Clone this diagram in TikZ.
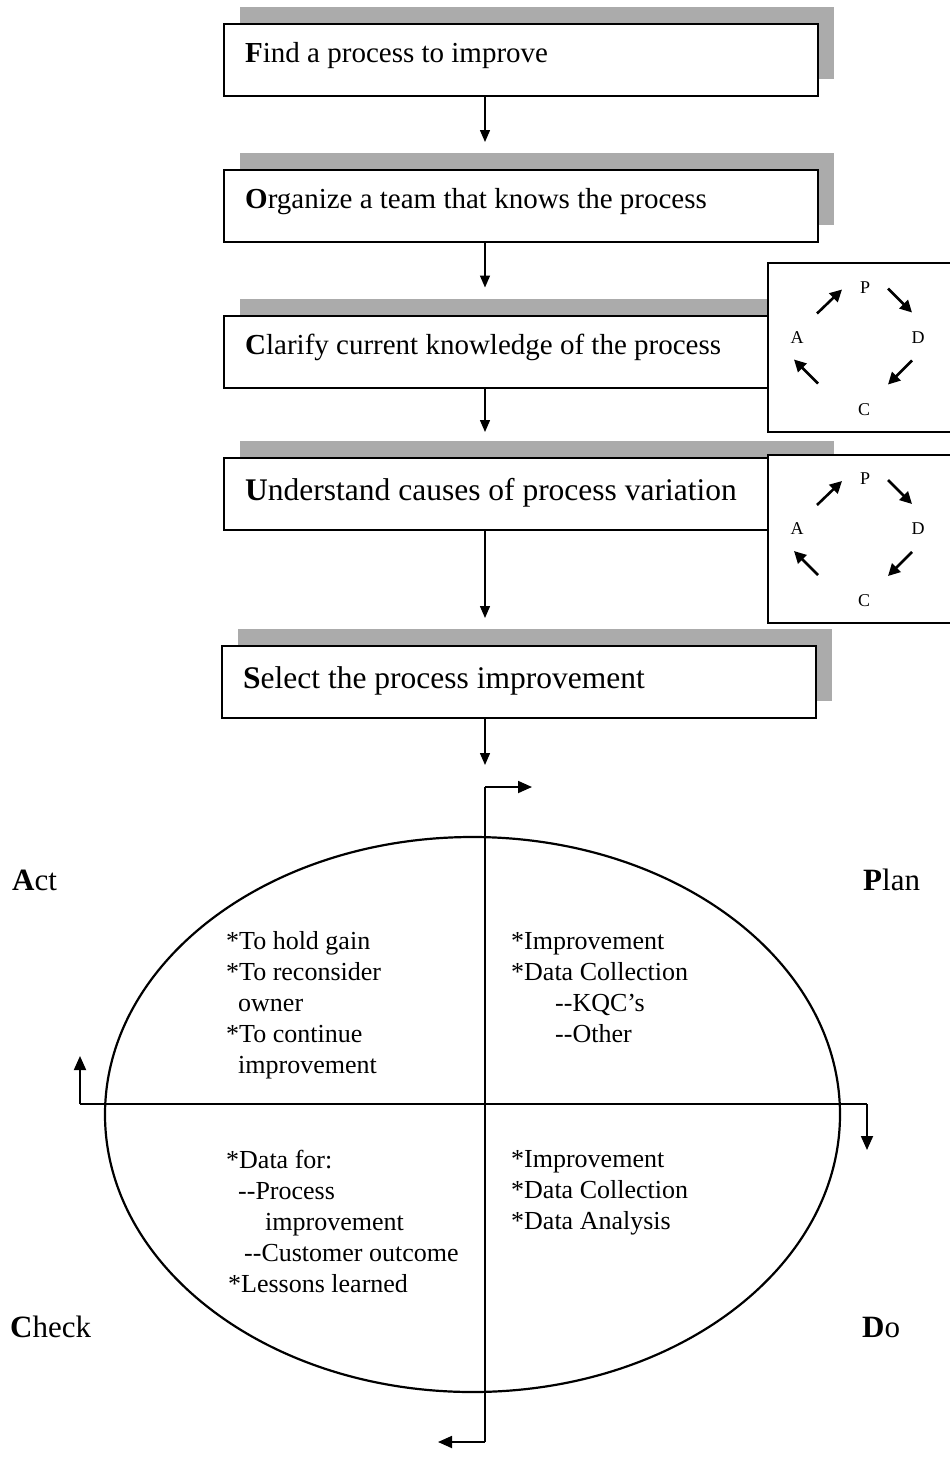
\documentclass[tikz,border=0pt]{standalone}
\usepackage{fontspec}
\setmainfont{Liberation Serif}
\usetikzlibrary{arrows.meta,shapes.geometric,shadows}
\begin{document}
\begin{tikzpicture}[x=1pt,y=-1pt,
  procbox/.style={draw,line width=2pt,fill=white,minimum width=594pt,minimum height=72pt,inner sep=0pt,
    drop shadow={shadow xshift=16pt,shadow yshift=17pt,fill=black!33,opacity=1}},
  steptext/.style={anchor=base west,inner sep=0pt,font=\fontsize{29}{34}\selectfont},
  bigsteptext/.style={steptext,font=\fontsize{31.5}{36}\selectfont},
  flow/.style={line width=1.4pt,-{Triangle[length=12pt,width=10pt]}},
  pdcabox/.style={draw,line width=2pt,fill=white,minimum width=184pt,inner sep=0pt},
  cycletter/.style={font=\fontsize{18}{20}\selectfont,inner sep=0pt},
  cycarrow/.style={line width=2.6pt,-{Triangle[length=12pt,width=12pt]}},
  quadtext/.style={anchor=base west,inner sep=0pt,align=left,font=\fontsize{26}{31}\selectfont},
  phase/.style={anchor=base west,inner sep=0pt,font=\fontsize{31}{34}\selectfont},
  axis/.style={line width=1.8pt},
  turn/.style={line width=1.8pt,-{Triangle[length=14pt,width=12pt]}},
  pdca/.pic={
    \node[cycletter] (-P) at (5,-60) {P};
    \node[cycletter] (-D) at (58,-10) {D};
    \node[cycletter] (-C) at (4,62) {C};
    \node[cycletter] (-A) at (-63,-10) {A};
    \draw[cycarrow] (-43,-34) -- (-18,-58);
    \draw[cycarrow] (28,-59) -- (52,-35);
    \draw[cycarrow] (52,13) -- (28,37);
    \draw[cycarrow] (-42,36) -- (-66,12);
  }]
\useasboundingbox (0,0) rectangle (950,1457);
\fill[white] (0,0) rectangle (950,1457);

% process steps
\node[procbox] (b1) at (521,60) {};
\node[steptext] (t1) at (245,62) {\textbf{F}ind a process to improve};
\node[procbox] (b2) at (521,206) {};
\node[steptext] (t2) at (245,208) {\textbf{O}rganize a team that knows the process};
\node[procbox] (b3) at (521,351.5) {};
\node[steptext] (t3) at (245,354) {\textbf{C}larify current knowledge of the process};
\node[procbox] (b4) at (521,494) {};
\node[bigsteptext] (t4) at (245,500) {\textbf{U}nderstand causes of process variation};
\node[procbox] (b5) at (519,682) {};
\node[bigsteptext] (t5) at (243,688) {\textbf{S}elect the process improvement};

% small PDCA cycles beside steps 3 and 4
\node[pdcabox,minimum height=169pt] (c1) at (860,347.5) {};
\pic (cyc1) at (c1.center) {pdca};
\node[pdcabox,minimum height=168pt] (c2) at (860,539) {};
\pic (cyc2) at (c2.center) {pdca};

% flow between steps
\coordinate (spine) at (485,0);
\coordinate (axtop) at (485,787);
\coordinate (axbot) at (485,1442);
\coordinate (axleft) at (80,1104);
\coordinate (axright) at (867,1104);
\draw[flow,shorten >=27pt] (b1.south -| spine) -- (b2.north -| spine);
\draw[flow,shorten >=27pt] (b2.south -| spine) -- (b3.north -| spine);
\draw[flow,shorten >=25pt] (b3.south -| spine) -- (b4.north -| spine);
\draw[flow,shorten >=27pt] (b4.south -| spine) -- (b5.north -| spine);
\draw[flow,shorten >=22pt] (b5.south -| spine) -- (axtop);

% PDCA wheel
\node[ellipse,draw,line width=2.2pt,minimum width=735pt,minimum height=555pt,inner sep=0pt] (wheel) at (472.5,1114.5) {};
\draw[axis] (axtop) -- (axbot);
\draw[axis] (axleft) -- (axright);
\coordinate (tipP) at (532,787);
\coordinate (tipD) at (867,1150);
\coordinate (tipC) at (438,1442);
\coordinate (tipA) at (80,1056);
\draw[turn] (axtop) -- (tipP);
\draw[turn] (axright) -- (tipD);
\draw[turn] (axbot) -- (tipC);
\draw[turn] (axleft) -- (tipA);

\node[phase] (act) at (12,890) {\textbf{A}ct};
\node[phase] (plan) at (863,890) {\textbf{P}lan};
\node[phase] (check) at (10,1337) {\textbf{C}heck};
\node[phase] (do) at (862,1337) {\textbf{D}o};

% quadrant notes (anchored at the baseline of their last line)
\node[quadtext] (qa) at (226,1073) {*To hold gain\\*To reconsider\\\hspace*{12pt}owner\\*To continue\\\hspace*{12pt}improvement};
\node[quadtext] (qp) at (511,1042) {*Improvement\\*Data Collection\\\hspace*{44pt}-{}-KQC’s\\\hspace*{44pt}-{}-Other};
\node[quadtext] (qc) at (226,1292) {*Data for:\\\hspace*{12pt}-{}-Process\\\hspace*{39pt}improvement\\\hspace*{18pt}-{}-Customer outcome\\\hspace*{2pt}*Lessons learned};
\node[quadtext] (qd) at (511,1229) {*Improvement\\*Data Collection\\*Data Analysis};
\end{tikzpicture}
\end{document}
